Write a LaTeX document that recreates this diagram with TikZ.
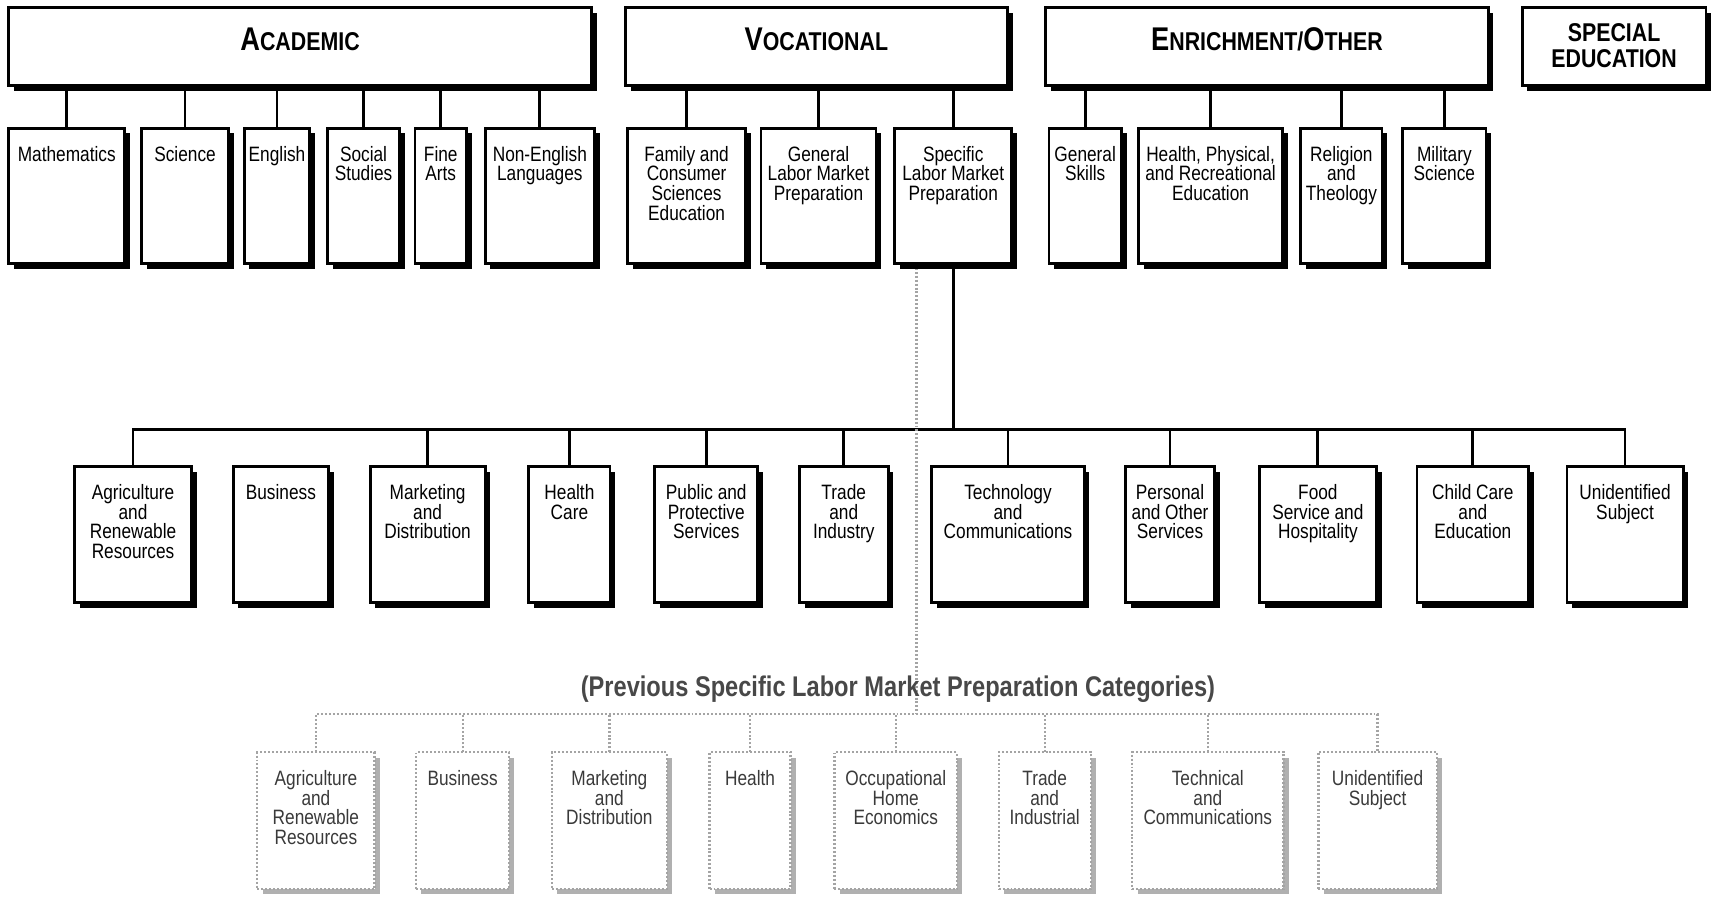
\documentclass[tikz,border=0pt]{standalone}
\usepackage{fontspec}
\setmainfont{Liberation Sans}[FakeStretch=0.83]
\usetikzlibrary{shadows,calc}
\pgfdeclarelayer{bg}
\pgfsetlayers{bg,main}
\definecolor{dgray}{HTML}{3A3A3A}
\definecolor{tgray}{HTML}{484848}
\definecolor{lgray}{HTML}{A4A4A4}
\definecolor{sgray}{HTML}{B0B0B0}
\tikzset{
  catbox/.style={draw=black, line width=2.6pt, fill=white, inner sep=0pt, outer sep=0pt,
    drop shadow={shadow xshift=4.8pt, shadow yshift=-4.8pt, fill=black, opacity=1}},
  oldbox/.style={draw=lgray, line width=2.1pt, dash pattern=on 1.8pt off 1.8pt, fill=white, inner sep=0pt, outer sep=0pt,
    drop shadow={shadow xshift=4.8pt, shadow yshift=-4.8pt, fill=sgray, opacity=1, draw=none}},
  boxtext/.style={font=\fontsize{19}{18}\selectfont, align=center, inner sep=0pt, anchor=north},
  oldtext/.style={boxtext, text=dgray},
  headtext/.style={font=\bfseries, inner sep=0pt},
  link/.style={line width=2.6pt},
  oldlink/.style={draw=lgray, line width=2.1pt, dash pattern=on 1.8pt off 1.8pt},
}
\newcommand\mkbox[8]{% box style, text style, name, x1, x2, ytop, ybot, text
  \node[#1, minimum width={(#5)-(#4)}, minimum height={(#7)-(#6)}] (#3) at ({((#4)+(#5))/2},{-((#6)+(#7))/2}) {};
  \node[#2] (#3-t) at ({((#4)+(#5))/2},{-(#6)-15}) {\rule{0pt}{15pt}#8};
}
\newcommand\BIG[1]{{\fontsize{30}{30}\selectfont #1}}
\newcommand\SM[1]{{\fontsize{23.5}{23.5}\selectfont #1}}
\begin{document}
\begin{tikzpicture}[x=1pt,y=1pt]
\useasboundingbox (0,0) rectangle (1568,-821);

% ---------- headers ----------
\node[catbox, minimum width=532, minimum height=71] (acad) at (274,-42.5) {};
\node[headtext, anchor=base] (acad-t) at (274,-46.5) {\BIG{A}\SM{CADEMIC}};
\node[catbox, minimum width=349, minimum height=71] (voc) at (745.5,-42.5) {};
\node[headtext, anchor=base] (voc-t) at (745.5,-46.5) {\BIG{V}\SM{OCATIONAL}};
\node[catbox, minimum width=404, minimum height=71] (enr) at (1157,-42.5) {};
\node[headtext, anchor=base] (enr-t) at (1157,-46.5) {\BIG{E}\SM{NRICHMENT/}\BIG{O}\SM{THER}};
\node[catbox, minimum width=168, minimum height=71] (sped) at (1474,-42.5) {};
\node[headtext, align=center, font=\bfseries\fontsize{23.5}{24}\selectfont] (sped-t) at (1474,-42) {SPECIAL\\EDUCATION};

% ---------- second row ----------
\mkbox{catbox}{boxtext}{math}{8}{114}{117}{241}{Mathematics}
\mkbox{catbox}{boxtext}{sci}{129}{209}{117}{241}{Science}
\mkbox{catbox}{boxtext}{eng}{223}{283}{117}{241}{English}
\mkbox{catbox}{boxtext}{soc}{299}{365}{117}{241}{Social\\Studies}
\mkbox{catbox}{boxtext}{fine}{379}{426}{117}{241}{Fine\\Arts}
\mkbox{catbox}{boxtext}{nonen}{443}{543}{117}{241}{Non-English\\Languages}
\mkbox{catbox}{boxtext}{fam}{573}{681}{117}{241}{Family and\\Consumer\\Sciences\\Education}
\mkbox{catbox}{boxtext}{glmp}{695}{800}{117}{241}{General\\Labor Market\\Preparation}
\mkbox{catbox}{boxtext}{slmp}{817}{924}{117}{241}{Specific\\Labor Market\\Preparation}
\mkbox{catbox}{boxtext}{gsk}{958}{1024}{117}{241}{General\\Skills}
\mkbox{catbox}{boxtext}{hpr}{1040}{1171}{117}{241}{Health, Physical,\\and Recreational\\Education}
\mkbox{catbox}{boxtext}{rel}{1188}{1262}{117}{241}{Religion\\and\\Theology}
\mkbox{catbox}{boxtext}{mil}{1281}{1357}{117}{241}{Military\\Science}

% ---------- third row ----------
\mkbox{catbox}{boxtext}{agri}{68}{175}{426}{550}{Agriculture\\and\\Renewable\\Resources}
\mkbox{catbox}{boxtext}{bus}{213}{300}{426}{550}{Business}
\mkbox{catbox}{boxtext}{mkt}{338}{443}{426}{550}{Marketing\\and\\Distribution}
\mkbox{catbox}{boxtext}{hc}{483}{557}{426}{550}{Health\\Care}
\mkbox{catbox}{boxtext}{pub}{598}{692}{426}{550}{Public and\\Protective\\Services}
\mkbox{catbox}{boxtext}{ti}{730}{811}{426}{550}{Trade\\and\\Industry}
\mkbox{catbox}{boxtext}{tc}{851}{990}{426}{550}{Technology\\and\\Communications}
\mkbox{catbox}{boxtext}{pos}{1028}{1109}{426}{550}{Personal\\and Other\\Services}
\mkbox{catbox}{boxtext}{fsh}{1150}{1257}{426}{550}{Food\\Service and\\Hospitality}
\mkbox{catbox}{boxtext}{cce}{1294}{1396}{426}{550}{Child Care\\and\\Education}
\mkbox{catbox}{boxtext}{uns}{1431}{1537}{426}{550}{Unidentified\\Subject}

% ---------- previous categories ----------
\node[font=\bfseries\fontsize{26}{26}\selectfont, text=tgray, inner sep=0pt] (title) at (820,-629) {(Previous Specific Labor Market Preparation Categories)};

\mkbox{oldbox}{oldtext}{pagri}{235}{342}{687}{812}{Agriculture\\and\\Renewable\\Resources}
\mkbox{oldbox}{oldtext}{pbus}{380}{465}{687}{812}{Business}
\mkbox{oldbox}{oldtext}{pmkt}{504}{609}{687}{812}{Marketing\\and\\Distribution}
\mkbox{oldbox}{oldtext}{phl}{648}{722}{687}{812}{Health}
\mkbox{oldbox}{oldtext}{pohe}{762}{874}{687}{812}{Occupational\\Home\\Economics}
\mkbox{oldbox}{oldtext}{pti}{912}{996}{687}{812}{Trade\\and\\Industrial}
\mkbox{oldbox}{oldtext}{ptc}{1034}{1172}{687}{812}{Technical\\and\\Communications}
\mkbox{oldbox}{oldtext}{puns}{1204}{1312}{687}{812}{Unidentified\\Subject}

% ---------- connectors ----------
\coordinate (bus) at (0,-392);
\coordinate (obus) at (0,-652);
\coordinate (dtop) at ([xshift=-33.5pt]slmp.south);
\begin{pgfonlayer}{bg}
  \foreach \c in {math,sci,eng,soc,fine,nonen} \draw[link] (acad.south -| \c.north) -- (\c.north);
  \foreach \c in {fam,glmp,slmp} \draw[link] (voc.south -| \c.north) -- (\c.north);
  \foreach \c in {gsk,hpr,rel,mil} \draw[link] (enr.south -| \c.north) -- (\c.north);
  \draw[link] (slmp.south) -- (slmp.south |- bus);
  \draw[link] (agri.north) |- (bus -| uns.north) -- (uns.north);
  \foreach \c in {bus,mkt,hc,pub,ti,tc,pos,fsh,cce} \draw[link] (\c.north) -- (\c.north |- bus);
  \draw[oldlink] (dtop) -- (dtop |- obus);
  \draw[oldlink] (pagri.north) |- (obus -| puns.north) -- (puns.north);
  \foreach \c in {pbus,pmkt,phl,pohe,pti,ptc} \draw[oldlink] (\c.north) -- (\c.north |- obus);
\end{pgfonlayer}
\end{tikzpicture}
\end{document}
